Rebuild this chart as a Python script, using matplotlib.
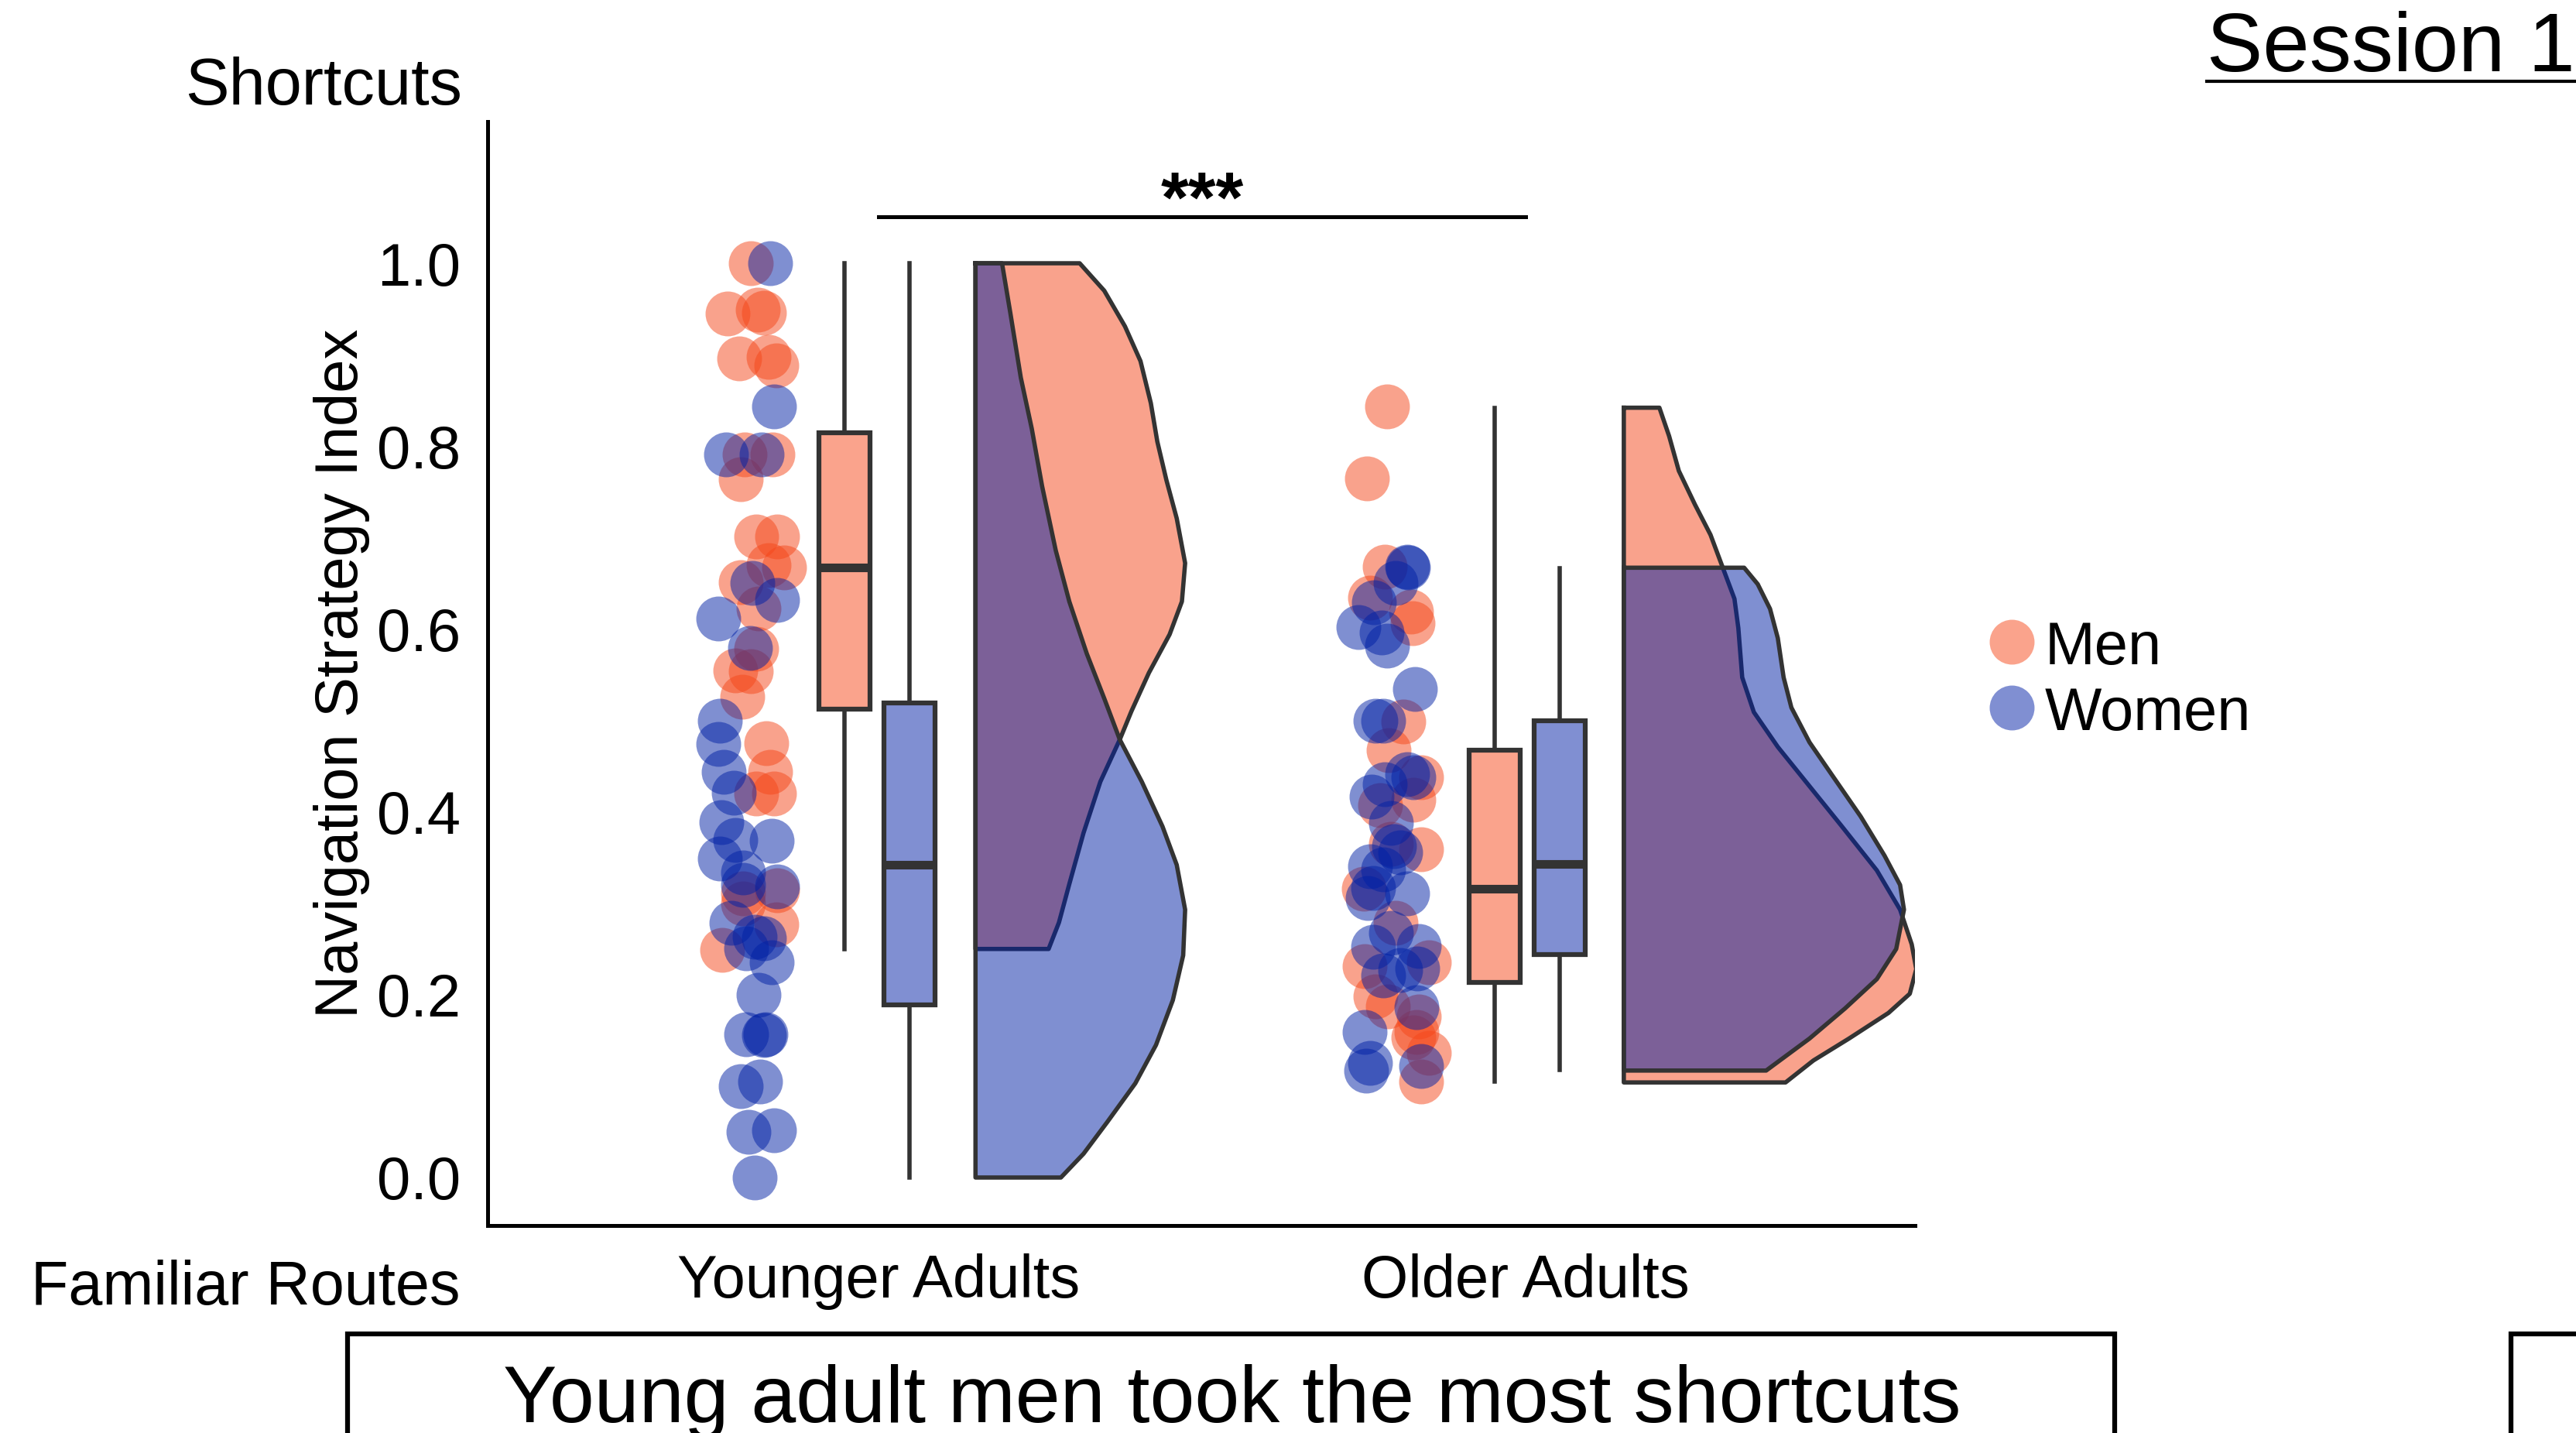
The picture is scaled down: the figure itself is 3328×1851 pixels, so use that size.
import matplotlib
matplotlib.use('Agg')
import numpy as np
import matplotlib.pyplot as plt
from matplotlib.patches import Rectangle
from matplotlib.lines import Line2D

plt.rcParams['font.family'] = ['Liberation Sans', 'DejaVu Sans']

W, H = 3328, 1851

groups = ['Younger Adults', 'Older Adults']
sexes = ['Men', 'Women']
yticks = [0.0, 0.2, 0.4, 0.6, 0.8, 1.0]

# raw points: horizontal jitter (offset from group centre) and index value
young_men_x = [-0.197, -0.233, -0.187, -0.177, -0.215, -0.170, -0.158, -0.207, -0.164, -0.213,
               -0.189, -0.156, -0.170, -0.146, -0.213, -0.185, -0.189, -0.221, -0.197, -0.211,
               -0.173, -0.167, -0.189, -0.161, -0.209, -0.156, -0.209, -0.158, -0.241]
young_men_y = [1.000, 0.945, 0.949, 0.946, 0.896, 0.898, 0.888, 0.791, 0.791, 0.764,
               0.701, 0.701, 0.670, 0.667, 0.651, 0.622, 0.578, 0.555, 0.554, 0.526,
               0.475, 0.444, 0.420, 0.420, 0.311, 0.314, 0.300, 0.277, 0.249]

young_women_x = [-0.167, -0.161, -0.235, -0.181, -0.195, -0.156, -0.247, -0.199, -0.245, -0.247,
                 -0.239, -0.223, -0.243, -0.221, -0.165, -0.245, -0.209, -0.156, -0.209, -0.227,
                 -0.191, -0.177, -0.205, -0.165, -0.185, -0.205, -0.175, -0.177, -0.213, -0.183,
                 -0.201, -0.161, -0.191]
young_women_y = [1.000, 0.843, 0.791, 0.791, 0.650, 0.632, 0.611, 0.579, 0.500, 0.474,
                 0.444, 0.421, 0.389, 0.369, 0.368, 0.349, 0.334, 0.318, 0.320, 0.279,
                 0.263, 0.262, 0.251, 0.235, 0.200, 0.157, 0.157, 0.156, 0.100, 0.105,
                 0.050, 0.052, 0.000]

older_men_x = [-0.214, -0.245, -0.217, -0.240, -0.177, -0.175, -0.189, -0.211, -0.161, -0.225,
               -0.173, -0.161, -0.208, -0.250, -0.201, -0.248, -0.149, -0.232, -0.213, -0.165,
               -0.169, -0.173, -0.149, -0.161]
older_men_y = [0.843, 0.765, 0.668, 0.634, 0.619, 0.606, 0.499, 0.467, 0.438, 0.407,
               0.413, 0.359, 0.365, 0.316, 0.279, 0.231, 0.235, 0.198, 0.187, 0.176,
               0.159, 0.153, 0.136, 0.105]

older_women_x = [-0.183, -0.181, -0.201, -0.234, -0.258, -0.222, -0.214, -0.171, -0.232, -0.220,
                 -0.183, -0.173, -0.217, -0.238, -0.208, -0.203, -0.193, -0.240, -0.220, -0.236,
                 -0.244, -0.183, -0.208, -0.236, -0.165, -0.220, -0.193, -0.167, -0.169, -0.248,
                 -0.240, -0.246, -0.161]
older_women_y = [0.668, 0.667, 0.650, 0.629, 0.602, 0.596, 0.582, 0.534, 0.500, 0.500,
                 0.441, 0.438, 0.430, 0.417, 0.388, 0.362, 0.356, 0.340, 0.337, 0.317,
                 0.306, 0.311, 0.268, 0.252, 0.253, 0.221, 0.227, 0.229, 0.186, 0.159,
                 0.125, 0.117, 0.122]

# boxplot summaries
box_young_men = dict(med=0.667, q1=0.512, q3=0.815, whislo=0.25, whishi=1.0)
box_young_women = dict(med=0.342, q1=0.189, q3=0.519, whislo=0.0, whishi=1.0)
box_older_men = dict(med=0.316, q1=0.213, q3=0.467, whislo=0.105, whishi=0.842)
box_older_women = dict(med=0.343, q1=0.244, q3=0.500, whislo=0.118, whishi=0.666)

# half-violin outlines (value, half width)
vio_young_men_y = [1.0, 0.970, 0.931, 0.893, 0.847, 0.805, 0.763, 0.721, 0.672, 0.630,
                   0.594, 0.552, 0.510, 0.479, 0.433, 0.377, 0.321, 0.279, 0.250]
vio_young_men_w = [0.161, 0.199, 0.231, 0.255, 0.271, 0.281, 0.295, 0.311, 0.324, 0.319,
                   0.300, 0.268, 0.241, 0.223, 0.193, 0.167, 0.145, 0.129, 0.113]
vio_young_women_y = [1.0, 0.945, 0.875, 0.819, 0.756, 0.686, 0.630, 0.573, 0.524, 0.479,
                     0.433, 0.384, 0.342, 0.293, 0.243, 0.194, 0.145, 0.103, 0.061, 0.026, 0.0]
vio_young_women_w = [0.041, 0.054, 0.070, 0.087, 0.103, 0.124, 0.145, 0.172, 0.199, 0.223,
                     0.257, 0.289, 0.311, 0.324, 0.321, 0.305, 0.279, 0.247, 0.204, 0.167, 0.132]
vio_older_men_y = [0.842, 0.811, 0.773, 0.736, 0.703, 0.667, 0.633, 0.601, 0.547, 0.509,
                   0.471, 0.428, 0.385, 0.336, 0.293, 0.255, 0.228, 0.201, 0.180, 0.152,
                   0.128, 0.104]
vio_older_men_w = [0.055, 0.070, 0.085, 0.110, 0.134, 0.153, 0.171, 0.177, 0.183, 0.201,
                   0.238, 0.287, 0.336, 0.391, 0.427, 0.445, 0.452, 0.442, 0.409, 0.348,
                   0.293, 0.250]
vio_older_women_y = [0.667, 0.649, 0.622, 0.590, 0.547, 0.514, 0.476, 0.439, 0.395, 0.352,
                     0.320, 0.293, 0.250, 0.217, 0.185, 0.152, 0.117]
vio_older_women_w = [0.186, 0.207, 0.226, 0.238, 0.247, 0.259, 0.287, 0.323, 0.366, 0.403,
                     0.427, 0.433, 0.421, 0.391, 0.342, 0.287, 0.220]

MEN = '#F5471A'
WOMEN = '#0020A5'
MEN_LIGHT = '#FAA38C'
WOMEN_LIGHT = '#808FD2'
EDGE = '#333333'


def fx(px):
    return px / W


def fy(py):
    return 1 - py / H


def half_violin(ax, x0, ys, ws, color, z):
    ys = np.asarray(ys)
    ws = np.asarray(ws)
    ax.fill_betweenx(ys, x0, x0 + ws, facecolor=color, alpha=0.5, linewidth=0, zorder=z)
    ox = np.concatenate([[x0], x0 + ws, [x0, x0]])
    oy = np.concatenate([[ys[0]], ys, [ys[-1], ys[0]]])
    ax.plot(ox, oy, color=EDGE, lw=4, zorder=z + 0.05, solid_joinstyle='round')


def box(ax, stats, pos, color):
    s = dict(stats)
    s['fliers'] = []
    ax.bxp([s], positions=[pos], widths=0.079, patch_artist=True, showcaps=False,
           showfliers=False, manage_ticks=False,
           boxprops=dict(facecolor=color, edgecolor=EDGE, linewidth=4.5),
           whiskerprops=dict(color=EDGE, linewidth=4),
           medianprops=dict(color=EDGE, linewidth=8, solid_capstyle='butt'))


fig = plt.figure(figsize=(W / 100, H / 100), dpi=100)
ax = fig.add_axes([fx(630), fy(1583), (2474 - 630) / W, (1583 - 157) / H])

xc = [0, 1]
pts = [(young_men_x, young_men_y, young_women_x, young_women_y),
       (older_men_x, older_men_y, older_women_x, older_women_y)]
for c, (mx, my, wx, wy) in zip(xc, pts):
    ax.scatter(c + np.asarray(mx), my, s=1740, color=MEN, alpha=0.5, linewidths=0, zorder=2)
    ax.scatter(c + np.asarray(wx), wy, s=1740, color=WOMEN, alpha=0.5, linewidths=0, zorder=2.1)

box(ax, box_young_men, 0 - 0.052, MEN_LIGHT)
box(ax, box_young_women, 0 + 0.048, WOMEN_LIGHT)
box(ax, box_older_men, 1 - 0.048, MEN_LIGHT)
box(ax, box_older_women, 1 + 0.053, WOMEN_LIGHT)

half_violin(ax, 0.15, vio_young_men_y, vio_young_men_w, MEN, 3)
half_violin(ax, 0.15, vio_young_women_y, vio_young_women_w, WOMEN, 3.2)
half_violin(ax, 1.152, vio_older_men_y, vio_older_men_w, MEN, 3)
half_violin(ax, 1.152, vio_older_women_y, vio_older_women_w, WOMEN, 3.2)

# significance bracket
ax.plot([0, 1], [1.051, 1.051], color='black', lw=3.6, clip_on=False)
ax.text(0.5, 1.045, '***', ha='center', va='baseline', fontsize=66, fontweight='bold')

ax.set_xlim(-0.604, 1.602)
ax.set_ylim(-0.0525, 1.155)
ax.set_xticks(xc)
ax.set_xticklabels(groups)
ax.set_yticks(yticks)
ax.set_yticklabels([f'{v:.1f}' for v in yticks])
ax.tick_params(axis='both', length=0, labelsize=56)
ax.tick_params(axis='y', pad=25)
ax.tick_params(axis='x', pad=26)
for side in ['top', 'right']:
    ax.spines[side].set_visible(False)
for side in ['left', 'bottom']:
    ax.spines[side].set_linewidth(3.6)
    ax.spines[side].set_color('black')

ax.set_ylabel('Navigation Strategy Index', fontsize=56, va='center')
ax.yaxis.set_label_coords((441 - 630) / (2474 - 630), 0.5)

# side labels
fig.text(fx(597), fy(135), 'Shortcuts', ha='right', va='baseline', fontsize=61)
fig.text(fx(594), fy(1685), 'Familiar Routes', ha='right', va='baseline', fontsize=57)

# legend
for lab, col, cy, by in [('Men', MEN_LIGHT, 829, 858), ('Women', WOMEN_LIGHT, 914, 943)]:
    ax.scatter([fx(2599)], [fy(cy)], s=1740, color=col, linewidths=0,
               transform=fig.transFigure, clip_on=False)
    fig.text(fx(2642), fy(by), lab, ha='left', va='baseline', fontsize=56)

# session title
fig.text(fx(2851), fy(92), 'Session 1', ha='left', va='baseline', fontsize=78)
fig.add_artist(Line2D([fx(2851), 1.0], [fy(105), fy(105)], color='black', lw=3))

# caption boxes
fig.add_artist(Rectangle((fx(449), fy(1900)), (2732 - 449) / W, (1900 - 1723) / H,
                         transform=fig.transFigure, fill=False, edgecolor='black', lw=4.5))
fig.add_artist(Rectangle((fx(3244), fy(1900)), (3400 - 3244) / W, (1900 - 1723) / H,
                         transform=fig.transFigure, fill=False, edgecolor='black', lw=4.5))
fig.text(fx(1592), fy(1837), 'Young adult men took the most shortcuts',
         ha='center', va='baseline', fontsize=75)

fig.savefig('out.png', dpi=100)
